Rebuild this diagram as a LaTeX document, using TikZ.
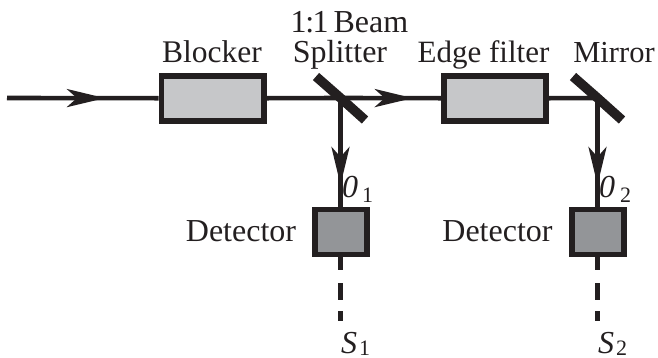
\documentclass[tikz,border=0pt]{standalone}
\usepackage{fontspec}
\setmainfont{Liberation Serif}
\usetikzlibrary{arrows.meta,decorations.markings}
\definecolor{ink}{HTML}{231F20}
\definecolor{lightbox}{HTML}{C6C7C9}
\definecolor{darkbox}{HTML}{939598}
\tikzset{
  x=1pt,y=-1pt,
  beam/.style={draw=ink,line width=4.6pt},
  tipped/.style={beam,postaction={decorate},decoration={markings,mark=at position #1 with {\arrow[ink]{Stealth[length=38pt,width=18pt,inset=10pt]}}}},
  filterbox/.style={draw=ink,line width=5.6pt,fill=lightbox,minimum width=102.5pt,minimum height=45pt,inner sep=0pt,outer sep=2.8pt},
  detbox/.style={draw=ink,line width=5.6pt,fill=darkbox,minimum width=52.5pt,minimum height=45pt,inner sep=0pt,outer sep=2.8pt},
  mirror/.style={draw=ink,line width=9.5pt},
  lbl/.style={font=\fontsize{32}{32}\selectfont,text=ink,inner sep=0pt,anchor=base},
  sym/.style={font=\fontsize{32}{32}\selectfont\itshape,text=ink,inner sep=0pt,anchor=base west},
  sub/.style={font=\fontsize{22}{22}\selectfont,text=ink,inner sep=0pt,anchor=base west,text depth=0pt},
}
\begin{document}
\begin{tikzpicture}
\useasboundingbox (0,0) rectangle (658,357);
\coordinate (in) at (7,98);
\node[filterbox] (blocker) at (212.75,98.2) {};
\node[filterbox] (edge) at (495,98.2) {};
\coordinate (bs) at (340.5,98);
\coordinate (mr) at (597.5,98);
\node[detbox] (d1) at (341,232) {};
\node[detbox] (d2) at (598,232) {};
\coordinate (s1) at (340.5,321);
\coordinate (s2) at (597.5,321);
\draw[tipped=0.646] (in) -- (blocker.west);
\draw[beam] (blocker.east) -- (bs);
\draw[tipped=0.72] (bs) -- (edge.west);
\draw[beam] (edge.east) -- (mr);
\draw[tipped=0.80] (bs) -- (d1.north -| bs);
\draw[tipped=0.80] (mr) -- (d2.north -| mr);
\draw[beam,dash pattern=on 13pt off 13pt on 17pt off 11pt on 10pt off 20pt] (d1.south -| bs) -- (s1);
\draw[beam,dash pattern=on 13pt off 13pt on 17pt off 11pt on 10pt off 20pt] (d2.south -| mr) -- (s2);
\draw[mirror] (316,76.5) -- (bs) -- (365,120);
\draw[mirror] (573,76.5) -- (mr) -- (622,120);
\node[lbl,font=\fontsize{31.5}{32}\selectfont] (tb) at (212,62) {Blocker};
\node[lbl] (tb1) at (349.5,32) {1\kern-1.5pt:\kern-1.5pt1\kern-3pt\ Beam};
\node[lbl] (tb2) at (340,62) {Splitter};
\node[lbl,font=\fontsize{31}{32}\selectfont] (te) at (483.5,62) {Edge filter};
\node[lbl,font=\fontsize{30.5}{32}\selectfont] (tm) at (614,62) {Mirror};
\node[lbl] (td1) at (241,241) {Detector};
\node[lbl] (td2) at (497.5,241) {Detector};
\node[sym] (o1) at (342,197) {0};
\node[sub] (o1s) at (362,202) {1};
\node[sym] (o2) at (599,197) {0};
\node[sub] (o2s) at (620,202) {2};
\node[sym] (t1) at (341,353) {S};
\node[sub] (t1s) at (359,355.5) {1};
\node[sym] (t2) at (598,353) {S};
\node[sub] (t2s) at (616,355.5) {2};
\end{tikzpicture}
\end{document}
